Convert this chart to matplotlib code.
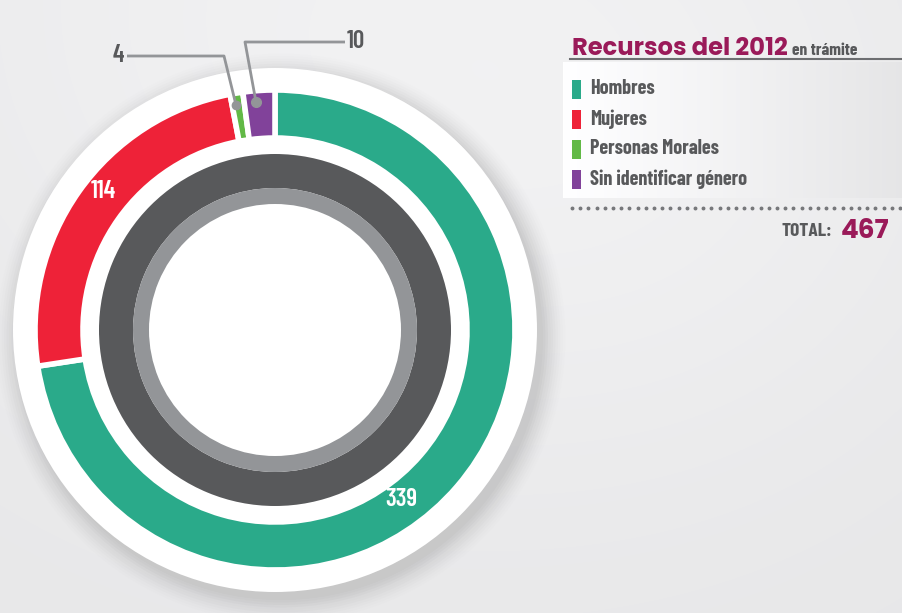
import numpy as np
import matplotlib.pyplot as plt
from matplotlib.patches import Circle, Rectangle
from matplotlib import font_manager as fm

categories = ["Hombres", "Mujeres", "Personas Morales", "Sin identificar género"]
values = [339, 114, 4, 10]
colors = ["#2aaa8a", "#ee2238", "#62b946", "#81429a"]
title_main = "Recursos del 2012"
title_sub = "en trámite"
total = sum(values)

fonts = [(f.name, f.weight if isinstance(f.weight, int) else 400) for f in fm.fontManager.ttflist]
def pick(cands, minw=600):
    for c in cands:
        if any(n == c and w >= minw for n, w in fonts):
            return c
    return "DejaVu Sans"
narrow = pick(["Barlow Condensed", "Roboto Condensed", "Asap Condensed", "Liberation Sans Narrow"])
geo = pick(["Montserrat", "Poppins", "Raleway", "Lato"])
GREY = "#58595b"
MAG = "#9a1a59"

W, H = 903, 613
fig = plt.figure(figsize=(W / 100, H / 100), dpi=100)
ax = fig.add_axes([0, 0, 1, 1])

def Y(y):
    return H - y

# background gradient
yy, xx = np.mgrid[0:H, 0:W]
bg = 0.905 + 0.035 * np.exp(-((xx - 300) ** 2 + (yy - 0) ** 2) / (2 * 350 ** 2))
bg += 0.02 * np.exp(-((xx - 700) ** 2 + (yy - 150) ** 2) / (2 * 250 ** 2))
ax.imshow(np.dstack([bg, bg, bg + 0.005]).clip(0, 1), extent=[0, W, 0, H], origin="upper", zorder=0)

cx, cy = 275, Y(330)
for i, a in enumerate(np.linspace(0.05, 0.012, 10)):
    ax.add_patch(Circle((cx + 6, cy - 8), 262 + i * 2.5, color="#7a7a7a", alpha=a, lw=0, zorder=1))
ax.add_patch(Circle((cx, cy), 262, color="white", lw=0, zorder=2))

wedges, _ = ax.pie(values, colors=colors, startangle=90, counterclock=False,
                   radius=240, center=(cx, cy), frame=True,
                   wedgeprops=dict(width=48, edgecolor="white", linewidth=4))
for w in wedges:
    w.set_zorder(3)
w1, _ = ax.pie([1], colors=["#58595b"], radius=176, center=(cx, cy), frame=True,
               wedgeprops=dict(width=34, linewidth=0))
w2, _ = ax.pie([1], colors=["#939598"], radius=142, center=(cx, cy), frame=True,
               wedgeprops=dict(width=16, linewidth=0))
for w in w1 + w2:
    w.set_zorder(3)
ax.set_xlim(0, W)
ax.set_ylim(0, H)
ax.set_aspect("auto")
ax.axis("off")

# value labels
ax.text(103, Y(191), str(values[1]), color="white", fontsize=18, fontweight="semibold",
        family=narrow, ha="center", va="center", zorder=5)
ax.text(401, Y(500), str(values[0]), color="white", fontsize=18, fontweight="semibold",
        family=narrow, ha="center", va="center", zorder=5)

# callouts
lc = "#939598"
ax.plot([127, 224, 236], [Y(56), Y(56), Y(105)], color=lc, lw=2, zorder=5, solid_capstyle="butt")
ax.plot([236], [Y(105)], "o", color=lc, ms=6, zorder=6)
ax.text(118, Y(56), str(values[2]), color=GREY, fontsize=18, fontweight="semibold",
        family=narrow, ha="center", va="center")
ax.plot([345, 245, 256], [Y(42), Y(42), Y(102)], color=lc, lw=2, zorder=5, solid_capstyle="butt")
ax.plot([256], [Y(102)], "o", color=lc, ms=7, zorder=6)
ax.text(356, Y(42), str(values[3]), color=GREY, fontsize=18, fontweight="semibold",
        family=narrow, ha="center", va="center")

# legend panel
panel = np.linspace(1.0, 0.90, 200)[None, :].repeat(10, 0)
ax.imshow(np.dstack([panel, panel, panel + 0.005]).clip(0, 1), extent=[563, W, Y(198), Y(62)],
          origin="upper", aspect="auto", zorder=1)
ax.plot([570, W], [Y(58.5), Y(58.5)], color="#6d6e71", lw=1.5)
tt = ax.text(572, Y(55), title_main, color=MAG, fontsize=17, fontweight="bold",
             family=geo, ha="left", va="baseline")
fig.canvas.draw()
bb = tt.get_window_extent()
tt.set_fontsize(min(19, 17 * 216 / bb.width))
ax.text(792, Y(55), title_sub, color=GREY, fontsize=12.5, fontweight="bold",
        family=narrow, ha="left", va="baseline")

ys = [89, 119, 149, 179]
for cat, col, y in zip(categories, colors, ys):
    ax.add_patch(Rectangle((572, Y(y) - 9.5), 9, 19, color=col, lw=0, zorder=3))
    ax.text(590, Y(y), cat, color=GREY, fontsize=14.5, fontweight="bold",
            family=narrow, ha="left", va="center", zorder=3)

dx = np.arange(572, W, 8.2)
ax.plot(dx, [Y(208)] * len(dx), "o", color="#77787b", ms=1.8)
ax.text(832, Y(232), "TOTAL:", color=GREY, fontsize=14, fontweight="bold",
        family=narrow, ha="right", va="center")
ax.text(841, Y(231), str(total), color=MAG, fontsize=19, fontweight="bold",
        family=geo, ha="left", va="center")

fig.savefig("out.png", dpi=100)
